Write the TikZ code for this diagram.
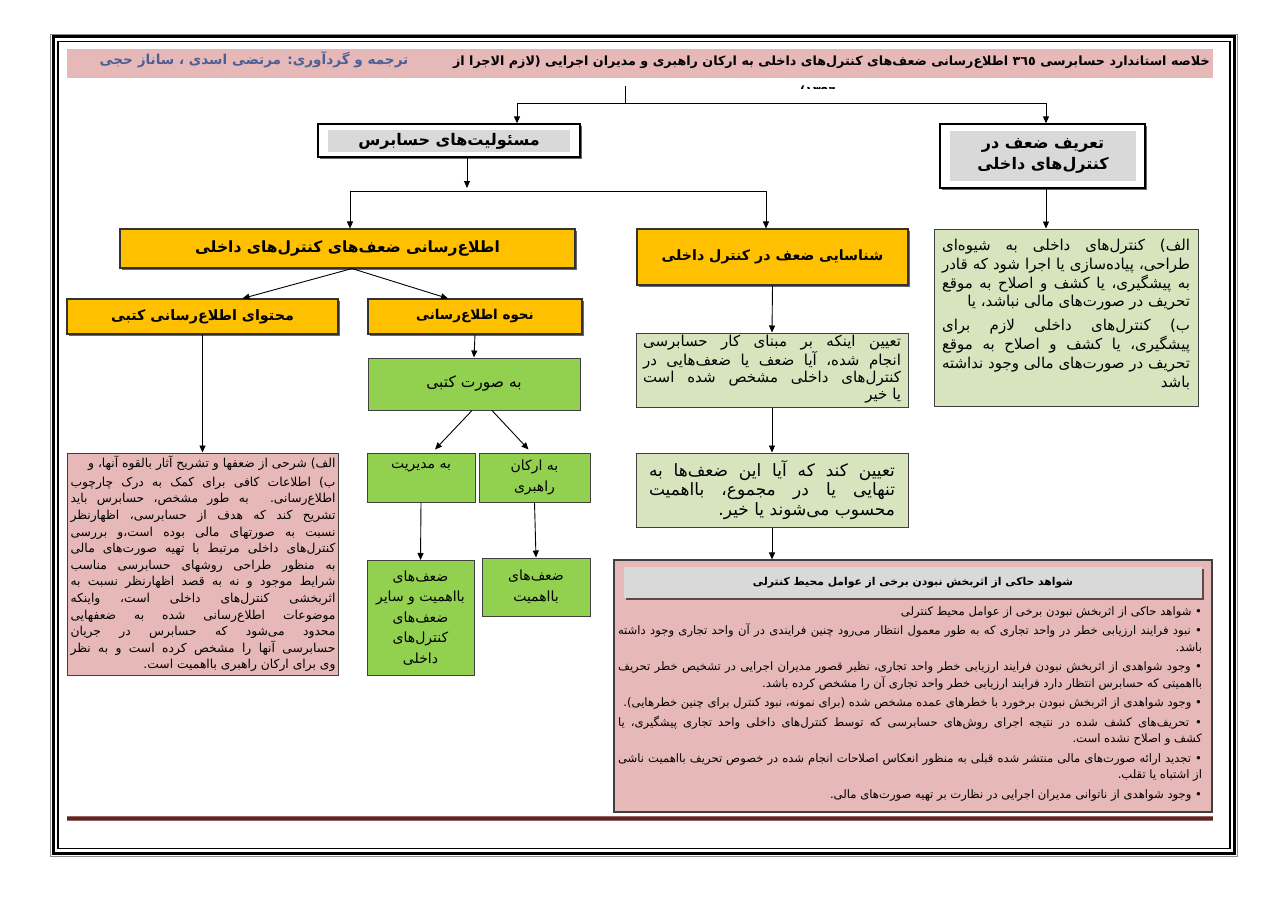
\documentclass[tikz,border=0pt]{standalone}
\usepackage{fontspec}
\usetikzlibrary{arrows.meta,shadows}
\TeXXeTstate=1
\newfontfamily\arabicfont[Script=Arabic]{DejaVu Sans}
\newcommand\arf{\arabicfont\hyphenpenalty=10000 \exhyphenpenalty=10000 }
\newcommand\AR[1]{\beginR #1\endR}
\newcommand\RP[1]{\beginR #1\par}
\newcommand\JP[2]{\parbox{#1}{\sloppy\parindent=0pt #2}}
\definecolor{orangeF}{RGB}{255,192,0}
\definecolor{lgreen}{RGB}{215,228,189}
\definecolor{bgreen}{RGB}{146,208,80}
\definecolor{pinkF}{RGB}{230,185,184}
\definecolor{grayF}{RGB}{217,217,217}
\definecolor{authorC}{RGB}{75,95,150}
\definecolor{lineRed}{RGB}{99,37,35}
\begin{document}
\begin{tikzpicture}[x=1pt,y=-1pt,
  arr/.style={-{Triangle[length=7pt,width=6pt]}, line width=0.9pt},
  conn/.style={line width=0.9pt},
  shad/.style={drop shadow={shadow xshift=1.5pt,shadow yshift=-1.5pt,opacity=0.6,fill=black}},
  obox/.style={draw=black!80, line width=1.1pt, fill=orangeF, inner sep=0pt, shad, font=\arf\bfseries\fontsize{15.5}{18}\selectfont},
  gbox/.style={draw=black!75, line width=1pt, fill=bgreen, inner sep=0pt, font=\arf\fontsize{14}{21}\selectfont},
  lbox/.style={draw=black!75, line width=1pt, fill=lgreen, inner sep=0pt},
  pbox/.style={draw=black!75, line width=1pt, fill=pinkF, inner sep=0pt},
  wbox/.style={draw=black, line width=1.3pt, fill=white, inner sep=0pt, shad},
  graybox/.style={fill=grayF, inner sep=0pt, font=\arf\bfseries\fontsize{16}{21}\selectfont}
]
\useasboundingbox (0,0) rectangle (1280,907);
% frame
\draw[black!45, line width=0.8pt] (50.5,34) rectangle (1237.5,856);
\draw[black, line width=3pt] (53.5,37) rectangle (1234.5,853);
\draw[black, line width=1.1pt] (58,41.5) rectangle (1230,848.5);

% title bar
\node[fill=pinkF, minimum width=1146pt, minimum height=29pt, inner sep=0pt] (titlebar) at (640,63.5) {};
\node[anchor=east, inner sep=0pt, font=\arf\bfseries\fontsize{12.7}{15}\selectfont] (title) at (1210,62)
  {\AR{خلاصه استاندارد حسابرسی ٣٦٥ اطلاع^^^^200cرسانی ضعف^^^^200cهای کنترل^^^^200cهای داخلی به ارکان راهبری و مدیران اجرایی (لازم الاجرا از}};
\node[inner sep=0pt, font=\arf\bfseries\fontsize{13.6}{17}\selectfont, text=authorC] (author) at (254,60)
  {\AR{ترجمه و گردآوری: مرتضی اسدی ، ساناز حجی}};
\begin{scope}
\clip (700,78.5) rectangle (950,89);
\node[inner sep=0pt, font=\arf\bfseries\fontsize{12.7}{15}\selectfont] (title2) at (818,92) {\AR{١٣٩٦)}};
\end{scope}

% top level boxes
\node[wbox, minimum width=262pt, minimum height=33pt] (resp) at (449,140.5) {};
\node[graybox, minimum width=242pt, minimum height=22pt] (respin) at (449,141) {\AR{مسئولیت^^^^200cهای حسابرس}};
\node[wbox, minimum width=205pt, minimum height=64pt] (defn) at (1042.5,156) {};
\node[graybox, minimum width=186pt, minimum height=50pt, align=center] (defnin) at (1043,156)
  {\AR{تعریف ضعف در}\\\AR{کنترل^^^^200cهای داخلی}};

\coordinate (t0) at (625,86);
\coordinate (j1) at (625,103);
\coordinate (jl) at (517,103);
\coordinate (jr) at (1046,103);
\draw[conn] (t0) -- (j1);
\draw[conn] (jl) -- (jr);
\draw[arr] (jl) -- (jl |- resp.north);
\draw[arr] (jr) -- (jr |- defn.north);

% second level
\node[obox, minimum width=455pt, minimum height=39pt] (inform) at (347.5,248.5) {\AR{اطلاع^^^^200cرسانی ضعف^^^^200cهای کنترل^^^^200cهای داخلی}};
\node[obox, minimum width=271pt, minimum height=56pt, font=\arf\bfseries\fontsize{14.2}{18}\selectfont] (ident) at (772.5,257) {\AR{شناسایی ضعف در کنترل داخلی}};
\node[lbox, minimum width=264pt, minimum height=177pt] (defbody) at (1066,317.5) {};
\node[inner sep=0pt, anchor=north] (defbodytext) at (1066,239)
  {\JP{248pt}{\arf\fontsize{15}{18.8}\selectfont\parskip=5pt
   \RP{الف) کنترل^^^^200cهای داخلی به شیوه^^^^200cای طراحی، پیاده^^^^200cسازی یا اجرا شود که قادر به پیشگیری، یا کشف و اصلاح به موقع تحریف در صورت^^^^200cهای مالی نباشد، یا}
   \RP{ب) کنترل^^^^200cهای داخلی لازم برای\linebreak پیشگیری، یا کشف و اصلاح به موقع تحریف در صورت^^^^200cهای مالی وجود نداشته باشد}}};

\coordinate (h2m) at (467,191);
\coordinate (h2l) at (350,191);
\coordinate (h2r) at (766,191);
\draw[arr] (resp.south -| h2m) -- ([yshift=3pt]h2m);
\draw[conn] (h2l) -- (h2r);
\draw[arr] (h2l) -- (h2l |- inform.north);
\draw[arr] (h2r) -- (h2r |- ident.north);
\draw[arr] (defn.south -| jr) -- (defbody.north -| jr);

% left branch
\node[obox, minimum width=271pt, minimum height=35pt, font=\arf\bfseries\fontsize{14.3}{18}\selectfont] (content) at (202.5,316.5) {\AR{محتوای اطلاع^^^^200cرسانی کتبی}};
\node[obox, minimum width=214pt, minimum height=35pt, font=\arf\bfseries\fontsize{13.5}{18}\selectfont] (how) at (475,316.5) {\AR{نحوه اطلاع^^^^200cرسانی}};
\draw[arr] ([xshift=4.5pt]inform.south) -- ([xshift=40pt]content.north);
\draw[arr] ([xshift=4.5pt]inform.south) -- ([xshift=-27pt]how.north);

\node[pbox, minimum width=271pt, minimum height=222pt] (contentbody) at (202.5,564) {};
\node[inner sep=0pt, anchor=north] (contenttext) at (203,456)
  {\JP{265pt}{\arf\fontsize{12.3}{16.6}\selectfont\parskip=2pt
   \RP{الف) شرحی از ضعفها و تشریح آثار بالقوه آنها، و}
   \RP{ب) اطلاعات کافی برای کمک به درک چارچوب\linebreak اطلاع^^^^200cرسانی. به طور مشخص، حسابرس باید\linebreak تشریح کند که هدف از حسابرسی، اظهارنظر\linebreak نسبت به صورتهای مالی بوده است،و بررسی\linebreak کنترل^^^^200cهای داخلی مرتبط با تهیه صورت^^^^200cهای مالی\linebreak به منظور طراحی روشهای حسابرسی مناسب\linebreak شرایط موجود و نه به قصد اظهارنظر نسبت به\linebreak اثربخشی کنترل^^^^200cهای داخلی است، واینکه\linebreak موضوعات اطلاع^^^^200cرسانی شده به ضعفهایی\linebreak محدود می^^^^200cشود که حسابرس در جریان\linebreak حسابرسی آنها را مشخص کرده است و به نظر\linebreak وی برای ارکان راهبری بااهمیت است.}}};
\draw[arr] (content.south) -- (contentbody.north);

\node[gbox, minimum width=212pt, minimum height=52pt, font=\arf\fontsize{15.5}{21}\selectfont] (written) at (474,384) {\AR{به صورت کتبی}};
\draw[arr] (how.south) -- (written.north);
\node[gbox, minimum width=108pt, minimum height=49pt] (mgmt) at (421,477.5) {};
\node[inner sep=0pt, font=\arf\fontsize{14}{21}\selectfont] (mgmttext) at (421,467) {\AR{به مدیریت}};
\node[gbox, minimum width=111pt, minimum height=49pt, align=center] (gov) at (534.5,477.5) {\AR{به ارکان}\\\AR{راهبری}};
\draw[arr] ([xshift=-2pt]written.south) -- ([xshift=14pt,yshift=3pt]mgmt.north);
\draw[arr] ([xshift=18pt]written.south) -- ([xshift=-6pt,yshift=3pt]gov.north);
\node[gbox, minimum width=107pt, minimum height=115pt, align=center, font=\arf\fontsize{14}{20.5}\selectfont] (mgmtw) at (420.5,618)
  {\AR{ضعف^^^^200cهای}\\\AR{بااهمیت و سایر}\\\AR{ضعف^^^^200cهای}\\\AR{کنترل^^^^200cهای}\\\AR{داخلی}};
\node[gbox, minimum width=108pt, minimum height=58pt, align=center, font=\arf\fontsize{14}{21}\selectfont] (govw) at (536,587)
  {\AR{ضعف^^^^200cهای}\\\AR{بااهمیت}};
\draw[arr] (mgmt.south) -- (mgmtw.north);
\draw[arr] (gov.south) -- (govw.north);

% middle branch
\node[lbox, minimum width=272pt, minimum height=74pt] (id1) at (772,370) {};
\node[inner sep=0pt, anchor=north] (id1text) at (772,335)
  {\JP{258pt}{\arf\fontsize{15}{17.2}\selectfont
   \RP{تعیین اینکه بر مبنای کار حسابرسی\linebreak انجام شده، آیا ضعف یا ضعف^^^^200cهایی در\linebreak کنترل^^^^200cهای داخلی مشخص شده است\linebreak یا خیر}}};
\node[lbox, minimum width=272pt, minimum height=74pt] (id2) at (772,490)
  {\JP{246pt}{\arf\fontsize{17}{19.5}\selectfont
   \RP{تعیین کند که آیا این ضعف^^^^200cها به\linebreak تنهایی یا در مجموع، بااهمیت\linebreak محسوب می^^^^200cشوند یا خیر.}}};
\draw[arr] (ident.south) -- (id1.north);
\draw[arr] (id1.south) -- (id2.north);

% evidence box
\node[pbox, line width=1.2pt, minimum width=598pt, minimum height=252pt] (evid) at (913,686) {};
\draw[arr] (id2.south) -- (id2.south |- evid.north);
\node[graybox, minimum width=578pt, minimum height=31pt, shad, font=\arf\bfseries\fontsize{10.8}{14}\selectfont] (evidhead) at (913,582.5)
  {\AR{شواهد حاکی از اثربخش نبودن برخی از عوامل محیط کنترلی}};
\node[inner sep=0pt, anchor=north] (evidtext) at (910,606)
  {\JP{584pt}{\arf\fontsize{11.6}{16.5}\selectfont\parskip=3pt
   \RP{• شواهد حاکی از اثربخش نبودن برخی از عوامل محیط کنترلی}
   \RP{• نبود فرایند ارزیابی خطر در واحد تجاری که به طور معمول انتظار می^^^^200cرود چنین فرایندی در آن واحد تجاری وجود داشته باشد.}
   \RP{• وجود شواهدی از اثربخش نبودن فرایند ارزیابی خطر واحد تجاری، نظیر قصور مدیران اجرایی در تشخیص خطر تحریف بااهمیتی که حسابرس انتظار دارد فرایند ارزیابی خطر واحد تجاری آن را مشخص کرده باشد.}
   \RP{• وجود شواهدی از اثربخش نبودن برخورد با خطرهای عمده مشخص شده (برای نمونه، نبود کنترل برای چنین خطرهایی).}
   \RP{• تحریف^^^^200cهای کشف شده در نتیجه اجرای روش^^^^200cهای حسابرسی که توسط کنترل^^^^200cهای داخلی واحد تجاری پیشگیری، یا\linebreak کشف و اصلاح نشده است.}
   \RP{• تجدید ارائه صورت^^^^200cهای مالی منتشر شده قبلی به منظور انعکاس اصلاحات انجام شده در خصوص تحریف بااهمیت ناشی از اشتباه یا تقلب.}
   \RP{• وجود شواهدی از ناتوانی مدیران اجرایی در نظارت بر تهیه صورت^^^^200cهای مالی.}}};

% bottom rule
\coordinate (bl) at (67,818);
\coordinate (br) at (1213,818);
\draw[lineRed!70, line width=5pt] (bl) -- (br);
\draw[lineRed, line width=3pt] (bl) -- (br);
\end{tikzpicture}
\end{document}
